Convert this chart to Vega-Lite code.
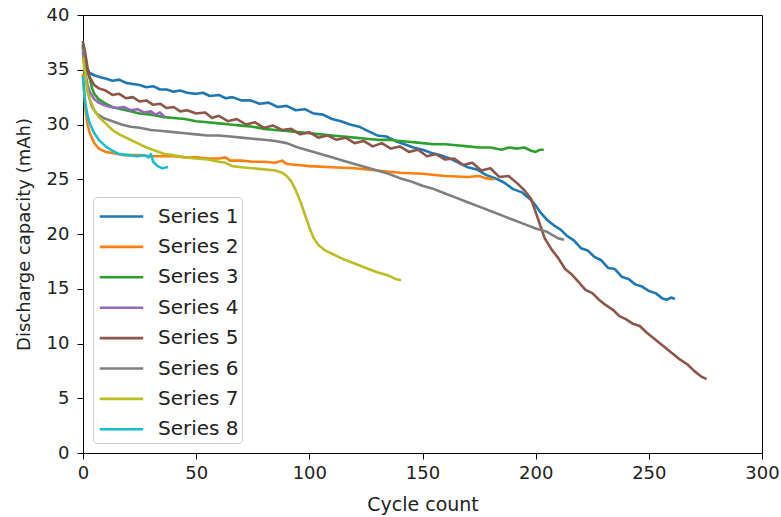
{
  "$schema": "https://vega.github.io/schema/vega-lite/v6.json",
  "width": 679,
  "height": 438,
  "autosize": {"type": "none"},
  "padding": {"left": 83, "top": 15, "right": 19, "bottom": 64},
  "background": "white",
  "config": {
    "font": "DejaVu Sans",
    "view": {"stroke": "black", "strokeWidth": 1},
    "axis": {
      "grid": false,
      "domainColor": "black",
      "tickColor": "black",
      "tickSize": 6,
      "labelColor": "#222",
      "titleColor": "#222",
      "labelFontSize": 18,
      "titleFontSize": 18,
      "titleFontWeight": "normal",
      "labelFont": "DejaVu Sans",
      "titleFont": "DejaVu Sans"
    },
    "legend": {
      "labelFont": "DejaVu Sans",
      "labelFontSize": 20,
      "labelColor": "#222"
    }
  },
  "datasets": {
    "pts": [
      {"series": "Series 1", "cycle": 0, "cap": 37.2}, {"series": "Series 1", "cycle": 1, "cap": 35.8}, {"series": "Series 1", "cycle": 2, "cap": 35.0}, {"series": "Series 1", "cycle": 3, "cap": 34.7}, {"series": "Series 1", "cycle": 5, "cap": 34.5}, {"series": "Series 1", "cycle": 8, "cap": 34.3}, {"series": "Series 1", "cycle": 10, "cap": 34.2}, {"series": "Series 1", "cycle": 13, "cap": 34.0}, {"series": "Series 1", "cycle": 16, "cap": 34.1}, {"series": "Series 1", "cycle": 19, "cap": 33.8}, {"series": "Series 1", "cycle": 22, "cap": 33.7}, {"series": "Series 1", "cycle": 25, "cap": 33.6}, {"series": "Series 1", "cycle": 28, "cap": 33.4}, {"series": "Series 1", "cycle": 31, "cap": 33.5}, {"series": "Series 1", "cycle": 34, "cap": 33.2}, {"series": "Series 1", "cycle": 37, "cap": 33.2}, {"series": "Series 1", "cycle": 40, "cap": 33.0}, {"series": "Series 1", "cycle": 43, "cap": 33.1}, {"series": "Series 1", "cycle": 46, "cap": 32.9}, {"series": "Series 1", "cycle": 50, "cap": 32.8}, {"series": "Series 1", "cycle": 53, "cap": 32.9}, {"series": "Series 1", "cycle": 56, "cap": 32.6}, {"series": "Series 1", "cycle": 60, "cap": 32.7}, {"series": "Series 1", "cycle": 63, "cap": 32.4}, {"series": "Series 1", "cycle": 66, "cap": 32.5}, {"series": "Series 1", "cycle": 70, "cap": 32.2}, {"series": "Series 1", "cycle": 74, "cap": 32.2}, {"series": "Series 1", "cycle": 78, "cap": 31.9}, {"series": "Series 1", "cycle": 82, "cap": 32.0}, {"series": "Series 1", "cycle": 86, "cap": 31.6}, {"series": "Series 1", "cycle": 90, "cap": 31.7}, {"series": "Series 1", "cycle": 94, "cap": 31.3}, {"series": "Series 1", "cycle": 98, "cap": 31.4}, {"series": "Series 1", "cycle": 102, "cap": 31.0}, {"series": "Series 1", "cycle": 106, "cap": 30.9}, {"series": "Series 1", "cycle": 110, "cap": 30.5}, {"series": "Series 1", "cycle": 114, "cap": 30.3}, {"series": "Series 1", "cycle": 118, "cap": 30.0}, {"series": "Series 1", "cycle": 122, "cap": 29.8}, {"series": "Series 1", "cycle": 126, "cap": 29.4}, {"series": "Series 1", "cycle": 130, "cap": 29.0}, {"series": "Series 1", "cycle": 134, "cap": 28.9}, {"series": "Series 1", "cycle": 138, "cap": 28.5}, {"series": "Series 1", "cycle": 142, "cap": 28.2}, {"series": "Series 1", "cycle": 146, "cap": 27.9}, {"series": "Series 1", "cycle": 150, "cap": 27.7}, {"series": "Series 1", "cycle": 154, "cap": 27.4}, {"series": "Series 1", "cycle": 158, "cap": 27.2}, {"series": "Series 1", "cycle": 162, "cap": 26.9}, {"series": "Series 1", "cycle": 166, "cap": 26.5}, {"series": "Series 1", "cycle": 170, "cap": 26.1}, {"series": "Series 1", "cycle": 174, "cap": 25.9}, {"series": "Series 1", "cycle": 178, "cap": 25.4}, {"series": "Series 1", "cycle": 182, "cap": 25.1}, {"series": "Series 1", "cycle": 186, "cap": 24.7}, {"series": "Series 1", "cycle": 190, "cap": 24.1}, {"series": "Series 1", "cycle": 194, "cap": 23.8}, {"series": "Series 1", "cycle": 198, "cap": 23.1}, {"series": "Series 1", "cycle": 200, "cap": 22.6}, {"series": "Series 1", "cycle": 202, "cap": 22.0}, {"series": "Series 1", "cycle": 205, "cap": 21.3}, {"series": "Series 1", "cycle": 208, "cap": 20.8}, {"series": "Series 1", "cycle": 211, "cap": 20.4}, {"series": "Series 1", "cycle": 214, "cap": 19.8}, {"series": "Series 1", "cycle": 217, "cap": 19.4}, {"series": "Series 1", "cycle": 220, "cap": 18.7}, {"series": "Series 1", "cycle": 223, "cap": 18.5}, {"series": "Series 1", "cycle": 226, "cap": 17.9}, {"series": "Series 1", "cycle": 229, "cap": 17.6}, {"series": "Series 1", "cycle": 232, "cap": 16.9}, {"series": "Series 1", "cycle": 235, "cap": 16.8}, {"series": "Series 1", "cycle": 238, "cap": 16.1}, {"series": "Series 1", "cycle": 241, "cap": 15.9}, {"series": "Series 1", "cycle": 244, "cap": 15.4}, {"series": "Series 1", "cycle": 247, "cap": 15.2}, {"series": "Series 1", "cycle": 250, "cap": 14.8}, {"series": "Series 1", "cycle": 253, "cap": 14.6}, {"series": "Series 1", "cycle": 256, "cap": 14.1}, {"series": "Series 1", "cycle": 258, "cap": 14.0}, {"series": "Series 1", "cycle": 260, "cap": 14.2}, {"series": "Series 1", "cycle": 261, "cap": 14.1},

      {"series": "Series 2", "cycle": 0, "cap": 34.5}, {"series": "Series 2", "cycle": 1, "cap": 31.5}, {"series": "Series 2", "cycle": 2, "cap": 30.0}, {"series": "Series 2", "cycle": 3, "cap": 29.2}, {"series": "Series 2", "cycle": 5, "cap": 28.3}, {"series": "Series 2", "cycle": 7, "cap": 27.8}, {"series": "Series 2", "cycle": 10, "cap": 27.5}, {"series": "Series 2", "cycle": 13, "cap": 27.4}, {"series": "Series 2", "cycle": 18, "cap": 27.2}, {"series": "Series 2", "cycle": 25, "cap": 27.2}, {"series": "Series 2", "cycle": 30, "cap": 27.1}, {"series": "Series 2", "cycle": 35, "cap": 27.1}, {"series": "Series 2", "cycle": 40, "cap": 27.1}, {"series": "Series 2", "cycle": 45, "cap": 27.0}, {"series": "Series 2", "cycle": 50, "cap": 27.0}, {"series": "Series 2", "cycle": 55, "cap": 26.9}, {"series": "Series 2", "cycle": 60, "cap": 26.9}, {"series": "Series 2", "cycle": 63, "cap": 27.0}, {"series": "Series 2", "cycle": 65, "cap": 26.7}, {"series": "Series 2", "cycle": 70, "cap": 26.7}, {"series": "Series 2", "cycle": 75, "cap": 26.6}, {"series": "Series 2", "cycle": 80, "cap": 26.6}, {"series": "Series 2", "cycle": 85, "cap": 26.5}, {"series": "Series 2", "cycle": 88, "cap": 26.7}, {"series": "Series 2", "cycle": 90, "cap": 26.4}, {"series": "Series 2", "cycle": 95, "cap": 26.3}, {"series": "Series 2", "cycle": 100, "cap": 26.2}, {"series": "Series 2", "cycle": 110, "cap": 26.1}, {"series": "Series 2", "cycle": 120, "cap": 26.0}, {"series": "Series 2", "cycle": 130, "cap": 25.8}, {"series": "Series 2", "cycle": 140, "cap": 25.6}, {"series": "Series 2", "cycle": 150, "cap": 25.5}, {"series": "Series 2", "cycle": 160, "cap": 25.3}, {"series": "Series 2", "cycle": 170, "cap": 25.2}, {"series": "Series 2", "cycle": 175, "cap": 25.3}, {"series": "Series 2", "cycle": 178, "cap": 25.1}, {"series": "Series 2", "cycle": 181, "cap": 25.0},

      {"series": "Series 3", "cycle": 0, "cap": 37.0}, {"series": "Series 3", "cycle": 1, "cap": 35.5}, {"series": "Series 3", "cycle": 2, "cap": 34.8}, {"series": "Series 3", "cycle": 3, "cap": 34.2}, {"series": "Series 3", "cycle": 4, "cap": 33.3}, {"series": "Series 3", "cycle": 5, "cap": 32.8}, {"series": "Series 3", "cycle": 7, "cap": 32.3}, {"series": "Series 3", "cycle": 10, "cap": 31.9}, {"series": "Series 3", "cycle": 13, "cap": 31.6}, {"series": "Series 3", "cycle": 17, "cap": 31.4}, {"series": "Series 3", "cycle": 21, "cap": 31.2}, {"series": "Series 3", "cycle": 25, "cap": 31.0}, {"series": "Series 3", "cycle": 30, "cap": 30.9}, {"series": "Series 3", "cycle": 35, "cap": 30.7}, {"series": "Series 3", "cycle": 40, "cap": 30.6}, {"series": "Series 3", "cycle": 45, "cap": 30.5}, {"series": "Series 3", "cycle": 50, "cap": 30.3}, {"series": "Series 3", "cycle": 55, "cap": 30.2}, {"series": "Series 3", "cycle": 60, "cap": 30.1}, {"series": "Series 3", "cycle": 65, "cap": 30.0}, {"series": "Series 3", "cycle": 70, "cap": 29.9}, {"series": "Series 3", "cycle": 75, "cap": 29.8}, {"series": "Series 3", "cycle": 80, "cap": 29.6}, {"series": "Series 3", "cycle": 85, "cap": 29.5}, {"series": "Series 3", "cycle": 90, "cap": 29.4}, {"series": "Series 3", "cycle": 95, "cap": 29.3}, {"series": "Series 3", "cycle": 100, "cap": 29.2}, {"series": "Series 3", "cycle": 105, "cap": 29.1}, {"series": "Series 3", "cycle": 110, "cap": 29.0}, {"series": "Series 3", "cycle": 115, "cap": 28.9}, {"series": "Series 3", "cycle": 120, "cap": 28.8}, {"series": "Series 3", "cycle": 125, "cap": 28.7}, {"series": "Series 3", "cycle": 130, "cap": 28.6}, {"series": "Series 3", "cycle": 135, "cap": 28.6}, {"series": "Series 3", "cycle": 140, "cap": 28.5}, {"series": "Series 3", "cycle": 145, "cap": 28.4}, {"series": "Series 3", "cycle": 150, "cap": 28.3}, {"series": "Series 3", "cycle": 155, "cap": 28.2}, {"series": "Series 3", "cycle": 160, "cap": 28.2}, {"series": "Series 3", "cycle": 165, "cap": 28.1}, {"series": "Series 3", "cycle": 170, "cap": 28.0}, {"series": "Series 3", "cycle": 175, "cap": 27.9}, {"series": "Series 3", "cycle": 180, "cap": 27.9}, {"series": "Series 3", "cycle": 185, "cap": 27.7}, {"series": "Series 3", "cycle": 188, "cap": 27.9}, {"series": "Series 3", "cycle": 192, "cap": 27.8}, {"series": "Series 3", "cycle": 195, "cap": 27.9}, {"series": "Series 3", "cycle": 198, "cap": 27.6}, {"series": "Series 3", "cycle": 200, "cap": 27.5}, {"series": "Series 3", "cycle": 202, "cap": 27.7}, {"series": "Series 3", "cycle": 203, "cap": 27.7},

      {"series": "Series 4", "cycle": 0, "cap": 36.5}, {"series": "Series 4", "cycle": 1, "cap": 34.8}, {"series": "Series 4", "cycle": 2, "cap": 33.6}, {"series": "Series 4", "cycle": 3, "cap": 33.0}, {"series": "Series 4", "cycle": 5, "cap": 32.3}, {"series": "Series 4", "cycle": 7, "cap": 32.0}, {"series": "Series 4", "cycle": 9, "cap": 31.8}, {"series": "Series 4", "cycle": 12, "cap": 31.6}, {"series": "Series 4", "cycle": 15, "cap": 31.5}, {"series": "Series 4", "cycle": 18, "cap": 31.6}, {"series": "Series 4", "cycle": 21, "cap": 31.3}, {"series": "Series 4", "cycle": 24, "cap": 31.4}, {"series": "Series 4", "cycle": 27, "cap": 31.1}, {"series": "Series 4", "cycle": 30, "cap": 31.2}, {"series": "Series 4", "cycle": 32, "cap": 30.9}, {"series": "Series 4", "cycle": 34, "cap": 31.1}, {"series": "Series 4", "cycle": 36, "cap": 30.7},

      {"series": "Series 5", "cycle": 0, "cap": 37.5}, {"series": "Series 5", "cycle": 1, "cap": 36.5}, {"series": "Series 5", "cycle": 2, "cap": 35.2}, {"series": "Series 5", "cycle": 3, "cap": 34.3}, {"series": "Series 5", "cycle": 5, "cap": 33.6}, {"series": "Series 5", "cycle": 7, "cap": 33.3}, {"series": "Series 5", "cycle": 10, "cap": 33.1}, {"series": "Series 5", "cycle": 13, "cap": 32.7}, {"series": "Series 5", "cycle": 16, "cap": 32.8}, {"series": "Series 5", "cycle": 19, "cap": 32.4}, {"series": "Series 5", "cycle": 22, "cap": 32.5}, {"series": "Series 5", "cycle": 25, "cap": 32.1}, {"series": "Series 5", "cycle": 28, "cap": 32.2}, {"series": "Series 5", "cycle": 31, "cap": 31.8}, {"series": "Series 5", "cycle": 34, "cap": 31.9}, {"series": "Series 5", "cycle": 37, "cap": 31.5}, {"series": "Series 5", "cycle": 40, "cap": 31.6}, {"series": "Series 5", "cycle": 43, "cap": 31.2}, {"series": "Series 5", "cycle": 46, "cap": 31.3}, {"series": "Series 5", "cycle": 50, "cap": 31.0}, {"series": "Series 5", "cycle": 54, "cap": 31.1}, {"series": "Series 5", "cycle": 57, "cap": 30.6}, {"series": "Series 5", "cycle": 60, "cap": 30.8}, {"series": "Series 5", "cycle": 64, "cap": 30.3}, {"series": "Series 5", "cycle": 68, "cap": 30.5}, {"series": "Series 5", "cycle": 72, "cap": 30.0}, {"series": "Series 5", "cycle": 76, "cap": 30.2}, {"series": "Series 5", "cycle": 80, "cap": 29.7}, {"series": "Series 5", "cycle": 84, "cap": 29.9}, {"series": "Series 5", "cycle": 88, "cap": 29.5}, {"series": "Series 5", "cycle": 92, "cap": 29.6}, {"series": "Series 5", "cycle": 96, "cap": 29.1}, {"series": "Series 5", "cycle": 100, "cap": 29.3}, {"series": "Series 5", "cycle": 104, "cap": 28.8}, {"series": "Series 5", "cycle": 108, "cap": 29.0}, {"series": "Series 5", "cycle": 112, "cap": 28.6}, {"series": "Series 5", "cycle": 116, "cap": 28.8}, {"series": "Series 5", "cycle": 120, "cap": 28.3}, {"series": "Series 5", "cycle": 124, "cap": 28.5}, {"series": "Series 5", "cycle": 128, "cap": 28.0}, {"series": "Series 5", "cycle": 132, "cap": 28.3}, {"series": "Series 5", "cycle": 136, "cap": 27.8}, {"series": "Series 5", "cycle": 140, "cap": 28.0}, {"series": "Series 5", "cycle": 144, "cap": 27.5}, {"series": "Series 5", "cycle": 148, "cap": 27.7}, {"series": "Series 5", "cycle": 152, "cap": 27.1}, {"series": "Series 5", "cycle": 156, "cap": 27.3}, {"series": "Series 5", "cycle": 160, "cap": 26.8}, {"series": "Series 5", "cycle": 164, "cap": 26.9}, {"series": "Series 5", "cycle": 168, "cap": 26.3}, {"series": "Series 5", "cycle": 172, "cap": 26.5}, {"series": "Series 5", "cycle": 176, "cap": 25.8}, {"series": "Series 5", "cycle": 180, "cap": 26.0}, {"series": "Series 5", "cycle": 184, "cap": 25.2}, {"series": "Series 5", "cycle": 188, "cap": 25.3}, {"series": "Series 5", "cycle": 192, "cap": 24.6}, {"series": "Series 5", "cycle": 195, "cap": 24.0}, {"series": "Series 5", "cycle": 198, "cap": 23.2}, {"series": "Series 5", "cycle": 200, "cap": 22.0}, {"series": "Series 5", "cycle": 202, "cap": 20.8}, {"series": "Series 5", "cycle": 204, "cap": 19.6}, {"series": "Series 5", "cycle": 207, "cap": 18.6}, {"series": "Series 5", "cycle": 210, "cap": 17.8}, {"series": "Series 5", "cycle": 213, "cap": 16.8}, {"series": "Series 5", "cycle": 216, "cap": 16.3}, {"series": "Series 5", "cycle": 219, "cap": 15.6}, {"series": "Series 5", "cycle": 222, "cap": 14.9}, {"series": "Series 5", "cycle": 225, "cap": 14.6}, {"series": "Series 5", "cycle": 228, "cap": 14.0}, {"series": "Series 5", "cycle": 231, "cap": 13.5}, {"series": "Series 5", "cycle": 234, "cap": 13.1}, {"series": "Series 5", "cycle": 237, "cap": 12.5}, {"series": "Series 5", "cycle": 240, "cap": 12.2}, {"series": "Series 5", "cycle": 243, "cap": 11.8}, {"series": "Series 5", "cycle": 246, "cap": 11.6}, {"series": "Series 5", "cycle": 249, "cap": 11.0}, {"series": "Series 5", "cycle": 252, "cap": 10.5}, {"series": "Series 5", "cycle": 255, "cap": 10.0}, {"series": "Series 5", "cycle": 258, "cap": 9.5}, {"series": "Series 5", "cycle": 261, "cap": 9.0}, {"series": "Series 5", "cycle": 264, "cap": 8.5}, {"series": "Series 5", "cycle": 267, "cap": 8.1}, {"series": "Series 5", "cycle": 270, "cap": 7.5}, {"series": "Series 5", "cycle": 273, "cap": 7.0}, {"series": "Series 5", "cycle": 275, "cap": 6.8},

      {"series": "Series 6", "cycle": 0, "cap": 36.8}, {"series": "Series 6", "cycle": 1, "cap": 34.5}, {"series": "Series 6", "cycle": 2, "cap": 33.2}, {"series": "Series 6", "cycle": 3, "cap": 32.3}, {"series": "Series 6", "cycle": 4, "cap": 31.6}, {"series": "Series 6", "cycle": 6, "cap": 31.0}, {"series": "Series 6", "cycle": 9, "cap": 30.6}, {"series": "Series 6", "cycle": 13, "cap": 30.3}, {"series": "Series 6", "cycle": 17, "cap": 30.0}, {"series": "Series 6", "cycle": 21, "cap": 29.8}, {"series": "Series 6", "cycle": 25, "cap": 29.7}, {"series": "Series 6", "cycle": 30, "cap": 29.5}, {"series": "Series 6", "cycle": 35, "cap": 29.4}, {"series": "Series 6", "cycle": 40, "cap": 29.3}, {"series": "Series 6", "cycle": 45, "cap": 29.2}, {"series": "Series 6", "cycle": 50, "cap": 29.1}, {"series": "Series 6", "cycle": 55, "cap": 29.0}, {"series": "Series 6", "cycle": 60, "cap": 29.0}, {"series": "Series 6", "cycle": 65, "cap": 28.9}, {"series": "Series 6", "cycle": 70, "cap": 28.8}, {"series": "Series 6", "cycle": 75, "cap": 28.7}, {"series": "Series 6", "cycle": 80, "cap": 28.6}, {"series": "Series 6", "cycle": 85, "cap": 28.5}, {"series": "Series 6", "cycle": 90, "cap": 28.3}, {"series": "Series 6", "cycle": 95, "cap": 27.9}, {"series": "Series 6", "cycle": 100, "cap": 27.6}, {"series": "Series 6", "cycle": 105, "cap": 27.3}, {"series": "Series 6", "cycle": 110, "cap": 27.0}, {"series": "Series 6", "cycle": 115, "cap": 26.7}, {"series": "Series 6", "cycle": 120, "cap": 26.4}, {"series": "Series 6", "cycle": 125, "cap": 26.1}, {"series": "Series 6", "cycle": 130, "cap": 25.8}, {"series": "Series 6", "cycle": 135, "cap": 25.5}, {"series": "Series 6", "cycle": 140, "cap": 25.1}, {"series": "Series 6", "cycle": 145, "cap": 24.8}, {"series": "Series 6", "cycle": 150, "cap": 24.4}, {"series": "Series 6", "cycle": 155, "cap": 24.1}, {"series": "Series 6", "cycle": 160, "cap": 23.7}, {"series": "Series 6", "cycle": 165, "cap": 23.3}, {"series": "Series 6", "cycle": 170, "cap": 22.9}, {"series": "Series 6", "cycle": 175, "cap": 22.5}, {"series": "Series 6", "cycle": 180, "cap": 22.1}, {"series": "Series 6", "cycle": 185, "cap": 21.7}, {"series": "Series 6", "cycle": 190, "cap": 21.3}, {"series": "Series 6", "cycle": 195, "cap": 20.9}, {"series": "Series 6", "cycle": 200, "cap": 20.5}, {"series": "Series 6", "cycle": 205, "cap": 20.2}, {"series": "Series 6", "cycle": 210, "cap": 19.6}, {"series": "Series 6", "cycle": 212, "cap": 19.5},

      {"series": "Series 7", "cycle": 0, "cap": 36.0}, {"series": "Series 7", "cycle": 1, "cap": 34.5}, {"series": "Series 7", "cycle": 2, "cap": 33.0}, {"series": "Series 7", "cycle": 3, "cap": 32.3}, {"series": "Series 7", "cycle": 5, "cap": 31.3}, {"series": "Series 7", "cycle": 7, "cap": 30.7}, {"series": "Series 7", "cycle": 10, "cap": 30.1}, {"series": "Series 7", "cycle": 13, "cap": 29.5}, {"series": "Series 7", "cycle": 16, "cap": 29.1}, {"series": "Series 7", "cycle": 20, "cap": 28.7}, {"series": "Series 7", "cycle": 24, "cap": 28.3}, {"series": "Series 7", "cycle": 28, "cap": 27.9}, {"series": "Series 7", "cycle": 32, "cap": 27.6}, {"series": "Series 7", "cycle": 36, "cap": 27.3}, {"series": "Series 7", "cycle": 40, "cap": 27.2}, {"series": "Series 7", "cycle": 45, "cap": 27.0}, {"series": "Series 7", "cycle": 50, "cap": 26.9}, {"series": "Series 7", "cycle": 55, "cap": 26.8}, {"series": "Series 7", "cycle": 60, "cap": 26.6}, {"series": "Series 7", "cycle": 63, "cap": 26.5}, {"series": "Series 7", "cycle": 66, "cap": 26.2}, {"series": "Series 7", "cycle": 70, "cap": 26.1}, {"series": "Series 7", "cycle": 75, "cap": 26.0}, {"series": "Series 7", "cycle": 80, "cap": 25.9}, {"series": "Series 7", "cycle": 85, "cap": 25.8}, {"series": "Series 7", "cycle": 88, "cap": 25.6}, {"series": "Series 7", "cycle": 90, "cap": 25.3}, {"series": "Series 7", "cycle": 92, "cap": 24.8}, {"series": "Series 7", "cycle": 94, "cap": 24.0}, {"series": "Series 7", "cycle": 96, "cap": 23.0}, {"series": "Series 7", "cycle": 98, "cap": 21.8}, {"series": "Series 7", "cycle": 100, "cap": 20.6}, {"series": "Series 7", "cycle": 102, "cap": 19.6}, {"series": "Series 7", "cycle": 104, "cap": 19.0}, {"series": "Series 7", "cycle": 107, "cap": 18.5}, {"series": "Series 7", "cycle": 110, "cap": 18.2}, {"series": "Series 7", "cycle": 115, "cap": 17.7}, {"series": "Series 7", "cycle": 120, "cap": 17.3}, {"series": "Series 7", "cycle": 125, "cap": 16.9}, {"series": "Series 7", "cycle": 130, "cap": 16.5}, {"series": "Series 7", "cycle": 135, "cap": 16.2}, {"series": "Series 7", "cycle": 138, "cap": 15.9}, {"series": "Series 7", "cycle": 140, "cap": 15.8},

      {"series": "Series 8", "cycle": 0, "cap": 34.3}, {"series": "Series 8", "cycle": 1, "cap": 32.0}, {"series": "Series 8", "cycle": 2, "cap": 30.8}, {"series": "Series 8", "cycle": 3, "cap": 30.1}, {"series": "Series 8", "cycle": 5, "cap": 29.2}, {"series": "Series 8", "cycle": 7, "cap": 28.6}, {"series": "Series 8", "cycle": 10, "cap": 28.0}, {"series": "Series 8", "cycle": 13, "cap": 27.6}, {"series": "Series 8", "cycle": 16, "cap": 27.3}, {"series": "Series 8", "cycle": 20, "cap": 27.2}, {"series": "Series 8", "cycle": 24, "cap": 27.1}, {"series": "Series 8", "cycle": 27, "cap": 27.2}, {"series": "Series 8", "cycle": 29, "cap": 27.0}, {"series": "Series 8", "cycle": 30, "cap": 27.3}, {"series": "Series 8", "cycle": 31, "cap": 26.6}, {"series": "Series 8", "cycle": 33, "cap": 26.2}, {"series": "Series 8", "cycle": 35, "cap": 26.0}, {"series": "Series 8", "cycle": 37, "cap": 26.1}
    ]
  },
  "data": {"name": "pts"},
  "mark": {"type": "line", "strokeWidth": 2.6, "strokeCap": "square", "strokeJoin": "round"},
  "encoding": {
    "x": {
      "field": "cycle",
      "type": "quantitative",
      "title": "Cycle count",
      "scale": {"domain": [0, 300], "nice": false, "zero": false},
      "axis": {"values": [0, 50, 100, 150, 200, 250, 300], "labelPadding": 5, "titlePadding": 13, "titleFontSize": 19, "labelFlush": false}
    },
    "y": {
      "field": "cap",
      "type": "quantitative",
      "title": "Discharge capacity (mAh)",
      "scale": {"domain": [0, 40], "nice": false},
      "axis": {"values": [0, 5, 10, 15, 20, 25, 30, 35, 40], "labelPadding": 8, "titlePadding": 13, "labelFlush": false}
    },
    "color": {
      "field": "series",
      "type": "nominal",
      "scale": {
        "domain": ["Series 1", "Series 2", "Series 3", "Series 4", "Series 5", "Series 6", "Series 7", "Series 8"],
        "range": ["#1f77b4", "#ff7f0e", "#2ca02c", "#9467bd", "#8c564b", "#7f7f7f", "#bcbd22", "#17becf"]
      },
      "legend": {
        "title": null,
        "orient": "bottom-left",
        "offset": 10,
        "padding": 3,
        "strokeColor": "#cccccc",
        "fillColor": "white",
        "cornerRadius": 4,
        "symbolType": "M-1.45,0H1.45",
        "symbolSize": 900,
        "symbolStrokeWidth": 2.6,
        "symbolOffset": 9,
        "labelOffset": 20,
        "rowPadding": 3.4
      }
    }
  }
}
